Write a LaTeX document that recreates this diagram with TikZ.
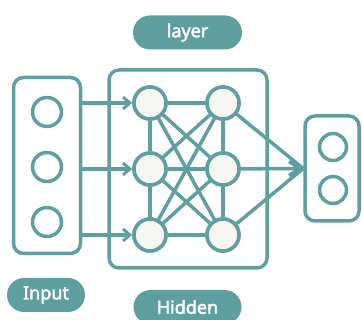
\documentclass[tikz,border=0pt]{standalone}
\usepackage{fontspec}
\setmainfont{Noto Sans}
\newfontfamily\pillfont[BoldFont={Noto Sans},BoldFeatures={FakeBold=2.5}]{Noto Sans}
\usetikzlibrary{arrows.meta}
\definecolor{teal1}{HTML}{5E9FA0}
\definecolor{nodefill}{HTML}{F6F6F2}
\begin{document}
\begin{tikzpicture}[x=1pt,y=-1pt,
  frame/.style={draw=teal1,line width=3.5pt,rounded corners=10pt,inner sep=0pt},
  neuron/.style={circle,draw=teal1,line width=3.5pt,fill=nodefill,minimum size=32pt,inner sep=0pt},
  unit/.style={circle,draw=teal1,line width=3.5pt,fill=white,inner sep=0pt},
  link/.style={draw=teal1,line width=3.5pt},
  feed/.style={link,-{Straight Barb[length=7pt,width=12pt,line width=3pt]}},
  merge/.style={link,-{Straight Barb[length=11pt,width=14pt,line width=3.5pt]}},
  pill/.style={fill=teal1,rounded corners=17pt,text=white,font=\pillfont\bfseries\fontsize{18}{21}\selectfont,inner sep=0pt,minimum height=34pt}
]
\useasboundingbox (0,0) rectangle (362,320);

% group frames
\node[frame,minimum width=67pt,minimum height=176pt] (inbox) at (47,165.5) {};
\node[frame,minimum width=158pt,minimum height=198pt] (hidbox) at (188,169) {};
\node[frame,minimum width=54pt,minimum height=105pt] (outbox) at (332,168.5) {};

% input units
\node[unit,minimum size=29pt] (i1) at (47,112) {};
\node[unit,minimum size=29pt] (i2) at (47,167) {};
\node[unit,minimum size=29pt] (i3) at (47,222) {};

% output units
\node[unit,minimum size=27pt] (o1) at (333,147) {};
\node[unit,minimum size=27pt] (o2) at (333,190) {};

% hidden neurons
\foreach \r/\y in {1/103,2/169,3/235}{
  \node[neuron] (a\r) at (150,\y) {};
  \node[neuron] (b\r) at (223,\y) {};
}

% hidden connections
\foreach \i in {1,2,3}{
  \foreach \j in {1,2,3}{
    \path[link] (a\i) -- (b\j);
  }
}
\path[link] (a1) -- (a2) (a2) -- (a3) (b1) -- (b2) (b2) -- (b3);

% redraw neurons above the links
\foreach \r/\y in {1/103,2/169,3/235}{
  \node[neuron] at (150,\y) {};
  \node[neuron] at (223,\y) {};
}

% input arrows
\foreach \r in {1,2,3}{
  \draw[feed] (inbox.east |- a\r) -- (a\r);
}

% output arrows
\draw[link] (b1) -- (outbox.west);
\draw[link] (b3) -- (outbox.west);
\draw[merge] (b2) -- (outbox.west);

% labels
\node[pill,minimum width=109pt] (lbl1) at (187.5,32.5) {layer};
\node[pill,minimum width=78pt] (lbl2) at (46,295) {Input};
\node[pill,minimum width=108pt] (lbl3) at (187.5,307) {Hidden};
\end{tikzpicture}
\end{document}
